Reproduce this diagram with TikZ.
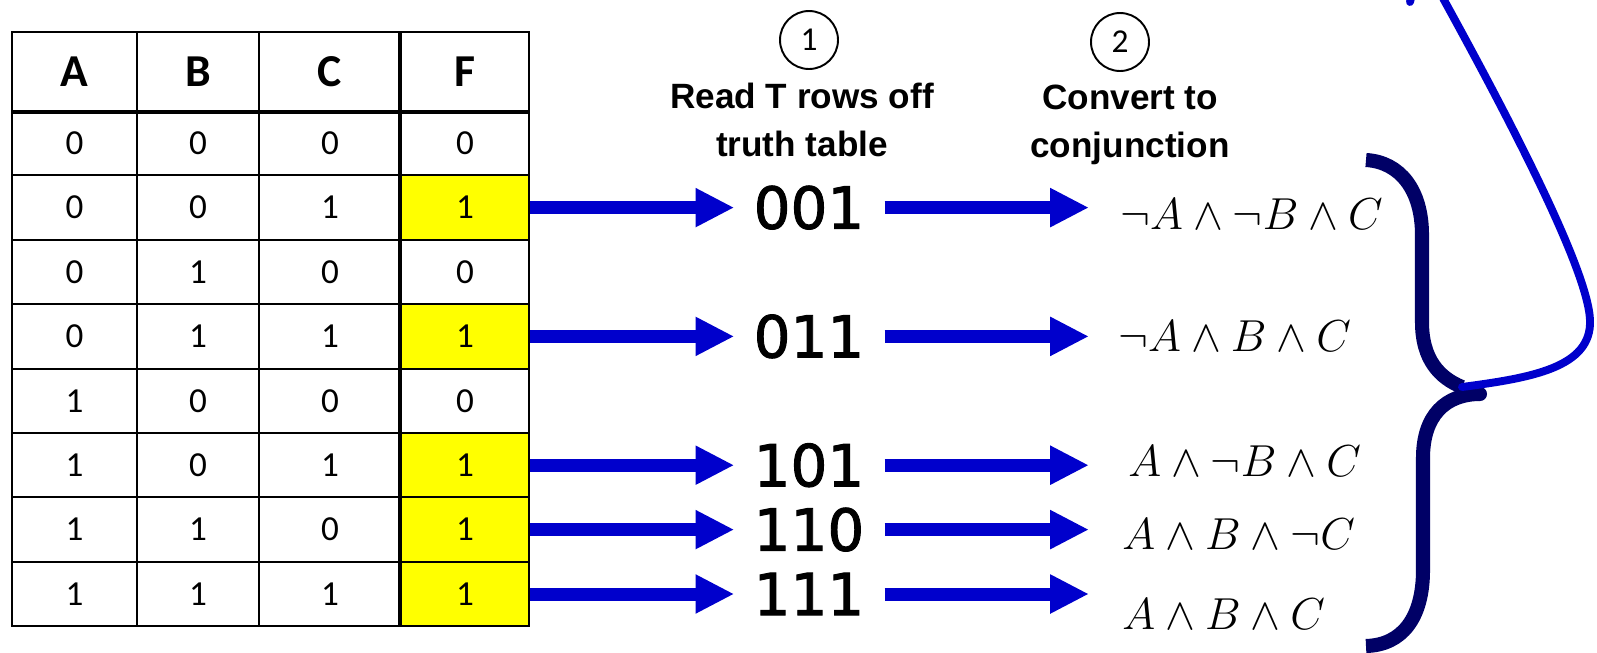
\RequirePackage{fix-cm}
\documentclass[tikz,border=0pt]{standalone}
\usepackage{fontspec}
\setmainfont{Carlito}
\newfontfamily\labelfont{Liberation Sans}
\newfontfamily\bitsfont[FakeBold=1.6]{DejaVu Sans}
\usetikzlibrary{arrows.meta}
\definecolor{flowblue}{RGB}{0,0,204}
\definecolor{bracenavy}{RGB}{0,0,102}
\definecolor{truecell}{RGB}{255,255,0}

\begin{document}
\begin{tikzpicture}[x=0.02cm, y=-0.02cm,
  cell/.style={draw=black, line width=1.1pt, inner sep=0pt, minimum height=1.288cm,
    font=\fontsize{20}{24}\selectfont},
  headcell/.style={cell, minimum height=1.58cm, font=\fontsize{26}{30}\selectfont\bfseries},
  colA/.style={minimum width=2.5cm},
  colB/.style={minimum width=2.44cm},
  colC/.style={minimum width=2.84cm},
  colF/.style={minimum width=2.56cm},
  bits/.style={inner ysep=0pt, inner xsep=0.4cm, font=\bitsfont\fontsize{33}{36}\selectfont},
  conj/.style={inner sep=0pt, anchor=west, font=\fontsize{25.5}{30}\selectfont},
  steplabel/.style={inner sep=0pt, anchor=base, font=\labelfont\bfseries\fontsize{20}{24}\selectfont},
  stepmark/.style={circle, draw, line width=1.1pt, minimum size=1.16cm, inner sep=0pt,
    font=\fontsize{19}{22}\selectfont},
  flow/.style={draw=flowblue, line width=7.4pt,
    -{Triangle[length=21.5pt, width=22.5pt, line width=0pt]}},
  bracepath/.style={draw=bracenavy, line width=8pt},
  linkpath/.style={draw=flowblue, line width=4.5pt, line cap=round}
  ]
\path[use as bounding box] (0,0) rectangle (1597,653);

% truth table: header
\node[headcell, colA] (ha) at (74.5,71.5) {A};
\node[headcell, colB] (hb) at (198,71.5) {B};
\node[headcell, colC] (hc) at (330,71.5) {C};
\node[headcell, colF] (hf) at (465,71.5) {F};

% truth table: rows
\foreach \r/\a/\b/\c/\f/\fc in {1/0/0/0/0/white, 2/0/0/1/1/truecell, 3/0/1/0/0/white,
    4/0/1/1/1/truecell, 5/1/0/0/0/white, 6/1/0/1/1/truecell, 7/1/1/0/1/truecell,
    8/1/1/1/1/truecell}{
  \node[cell, colA] (ta\r) at (74.5,{111+64.4*(\r-0.5)}) {\a};
  \node[cell, colB] (tb\r) at (198,{111+64.4*(\r-0.5)}) {\b};
  \node[cell, colC] (tc\r) at (330,{111+64.4*(\r-0.5)}) {\c};
  \node[cell, colF, fill=\fc] (tf\r) at (465,{111+64.4*(\r-0.5)}) {\f};
}

% heavy rules under the header and before the output column
\draw[line width=2.5pt] (ha.south west) -- (hf.south east);
\draw[line width=2.3pt] (hf.north west) -- (tf8.south west);

% step headings
\node[stepmark] (s1) at (809,40) {1};
\node[steplabel] (s1a) at (802,108) {Read T rows off};
\node[steplabel] (s1b) at (802,156) {truth table};
\node[stepmark] (s2) at (1120,42) {2};
\node[steplabel] (s2a) at (1130,109) {Convert to};
\node[steplabel] (s2b) at (1130,157) {conjunction};

% true rows read off as bit strings
\coordinate (conjtip) at (1088,0);
\foreach \r/\s in {2/001, 4/011, 6/101, 7/110, 8/111}{
  \node[bits] (bits\r) at (809,{111+64.4*(\r-0.5)}) {\s};
  \draw[flow] (tf\r.east) -- (bits\r.west);
  \draw[flow] (bits\r.east) -- (bits\r.east -| conjtip);
}

% conjunctions
\node[conj] (conj2) at (1120,214) {$\neg A \wedge \neg B \wedge C$};
\node[conj] (conj4) at (1118,336) {$\neg A \wedge B \wedge C$};
\node[conj] (conj6) at (1128,461) {$A \wedge \neg B \wedge C$};
\node[conj] (conj7) at (1122,534) {$A \wedge B \wedge \neg C$};
\node[conj] (conj8) at (1122,614) {$A \wedge B \wedge C$};

% brace gathering the conjunctions
\coordinate (bracetip) at (1462,387);
\draw[bracepath] (1366,160) .. controls (1400,162) and (1422,190) .. (1422,235)
  -- (1422,322) .. controls (1422,360) and (1440,378) .. (bracetip);
\draw[bracepath] (1480,394) .. controls (1446,394) and (1423,415) .. (1423,458)
  -- (1423,570) .. controls (1423,618) and (1402,645) .. (1366,646);
\fill[bracenavy] (1480,394) circle (4pt);

% link leaving the brace
\begin{scope}
\clip (0,0) rectangle (1597,653);
\draw[linkpath] (bracetip) .. controls (1530,378) and (1592,368) .. (1590,320)
  .. controls (1588,270) and (1510,120) .. (1444,0)
  .. controls (1436,-20) and (1414,-20) .. (1410,2);
\end{scope}
\end{tikzpicture}
\end{document}
